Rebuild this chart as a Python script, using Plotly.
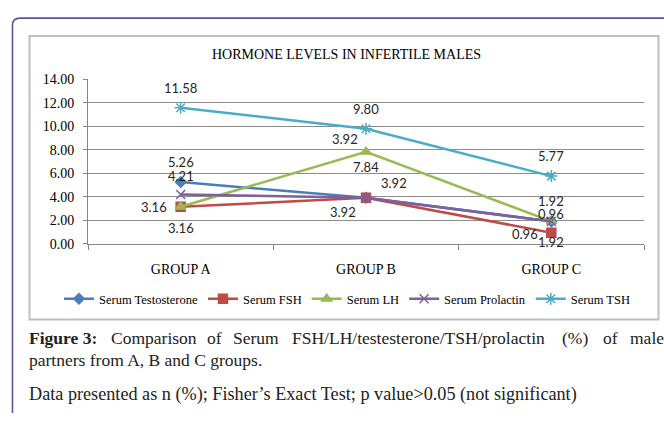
import plotly.graph_objects as go

# ---------------- data ----------------
groups = ["GROUP A", "GROUP B", "GROUP C"]
series_names = ["Serum Testosterone", "Serum FSH", "Serum LH", "Serum Prolactin", "Serum TSH"]
testosterone = [5.26, 3.92, 1.92]
fsh = [3.16, 3.92, 0.96]
lh = [3.16, 7.84, 1.92]
prolactin = [4.21, 3.92, 1.92]
tsh = [11.58, 9.80, 5.77]
# data label texts as printed on the chart
testosterone_labels = ["5.26", "3.92", "1.92"]
fsh_labels = ["3.16", "3.92", "0.96"]
lh_labels = ["3.16", "7.84", "1.92"]
prolactin_labels = ["4.21", "3.92", "0.96"]
tsh_labels = ["11.58", "9.80", "5.77"]
y_ticks = [0, 2, 4, 6, 8, 10, 12, 14]

# ---------------- styles ----------------
W, H = 664, 421
PX0, PX1 = 88, 644        # plot area x (px)
PY0, PY1 = 75, 245.7      # plot area y (px, from top)
SERIF = "Liberation Serif"
LABEL_FONT = dict(family="Lato", size=13, color="#262626")

styles = [
    dict(color="#4A7EBB", symbol="diamond", size=8, lw=2.5,
         offs=[(0, -20), (28, -15), (0, -20)]),
    dict(color="#BE4B48", symbol="square", size=9, lw=2.5,
         offs=[(-27, 0), (-23, 14), (-26, 1)]),
    dict(color="#98B954", symbol="triangle-up", size=9, lw=2.5,
         offs=[(0, 21), (0, 15), (0, 21)]),
    dict(color="#7D60A0", symbol="x-thin-open", size=9, lw=2.5,
         offs=[(0, -18), (-21, -59), (0, -7)]),
    dict(color="#4BACC6", symbol="asterisk-open", size=10, lw=2.5,
         offs=[(0, -20), (0, -20), (0, -20)]),
]
values = [testosterone, fsh, lh, prolactin, tsh]
labels = [testosterone_labels, fsh_labels, lh_labels, prolactin_labels, tsh_labels]

fig = go.Figure()
annotations = []
for name, vals, labs, st in zip(series_names, values, labels, styles):
    fig.add_trace(go.Scatter(
        x=groups, y=vals, name=name, mode="lines+markers",
        line=dict(color=st["color"], width=st["lw"]),
        marker=dict(symbol=st["symbol"], size=st["size"], color=st["color"],
                    line=dict(color=st["color"], width=1.5)),
    ))
    for g, v, t, (dx, dy) in zip(groups, vals, labs, st["offs"]):
        annotations.append(dict(x=g, y=v, xref="x", yref="y", text=t, showarrow=False,
                                xshift=dx, yshift=-dy, font=LABEL_FONT))

# caption (justified first line reproduced word by word)
cap_font = dict(family=SERIF, size=17.5, color="#222222")
line1 = [("<b>Figure 3:</b>", 27), ("Comparison", 109), ("of", 205), ("Serum", 231),
         ("FSH/LH/testesterone/TSH/prolactin", 290), ("(%)", 560), ("of", 601), ("male", 628)]
for txt, x in line1:
    annotations.append(dict(x=x / W, y=1 - 343 / H, xref="paper", yref="paper", text=txt,
                            showarrow=False, xanchor="left", yanchor="middle", font=cap_font))
annotations.append(dict(x=27 / W, y=1 - 366 / H, xref="paper", yref="paper",
                        text="partners from A, B and C groups.", showarrow=False,
                        xanchor="left", yanchor="middle", font=cap_font))
annotations.append(dict(x=27 / W, y=1 - 402 / H, xref="paper", yref="paper",
                        text="Data presented as n (%); Fisher\u2019s Exact Test; p value&gt;0.05 (not significant)",
                        showarrow=False, xanchor="left", yanchor="middle",
                        font=dict(family=SERIF, size=18.2, color="#222222")))

# title
annotations.append(dict(x=346 / W, y=1 - 49 / H, xref="paper", yref="paper",
                        text="HORMONE LEVELS IN INFERTILE MALES", showarrow=False,
                        xanchor="center", yanchor="middle",
                        font=dict(family=SERIF, size=14, color="#000000")))

shapes = [
    # chart box
    dict(type="rect", xref="paper", yref="paper", x0=29.5 / W, x1=658.5 / W,
         y0=1 - 324 / H, y1=1 - 30 / H, line=dict(color="#BFBFBF", width=2), layer="below"),
    # outer frame with rounded corner
    dict(type="path", xref="paper", yref="paper",
         path=f"M {12.5 / W},{0} L {12.5 / W},{1 - 19 / H} Q {12.5 / W},{1 - 11.5 / H} {20 / W},{1 - 11.5 / H} L {1},{1 - 11.5 / H}",
         line=dict(color="#5B5499", width=1.6)),
]

fig.update_layout(
    width=W, height=H, margin=dict(l=0, r=0, t=0, b=0),
    paper_bgcolor="white", plot_bgcolor="white",
    showlegend=True,
    legend=dict(orientation="h", x=347 / W, xanchor="center", y=1 - 303 / H, yanchor="middle",
                font=dict(family=SERIF, size=12.5, color="#000000"),
                itemwidth=30, tracegroupgap=0, bgcolor="rgba(0,0,0,0)"),
    xaxis=dict(domain=[PX0 / W, PX1 / W], type="category", range=[-0.5, 2.5],
               tickson="boundaries", ticks="outside", ticklen=5, tickcolor="#868686",
               showline=True, linecolor="#868686", linewidth=1, showgrid=False,
               tickfont=dict(family=SERIF, size=14, color="#000000"),
               ticklabelstandoff=12, fixedrange=True),
    yaxis=dict(domain=[1 - PY1 / H, 1 - PY0 / H], range=[0, 14], tickvals=y_ticks,
               tickformat=".2f", ticks="outside", ticklen=4, tickcolor="#868686",
               showline=True, linecolor="#868686", linewidth=1,
               showgrid=True, gridcolor="#8C8C8C", gridwidth=1, zeroline=False,
               tickfont=dict(family=SERIF, size=14, color="#000000"),
               ticklabelstandoff=6, fixedrange=True),
    annotations=annotations, shapes=shapes,
)

fig.write_html("out.html", config={"displayModeBar": False},
               post_script="document.documentElement.style.margin='0';document.body.style.margin='0';document.body.style.overflow='hidden';")
